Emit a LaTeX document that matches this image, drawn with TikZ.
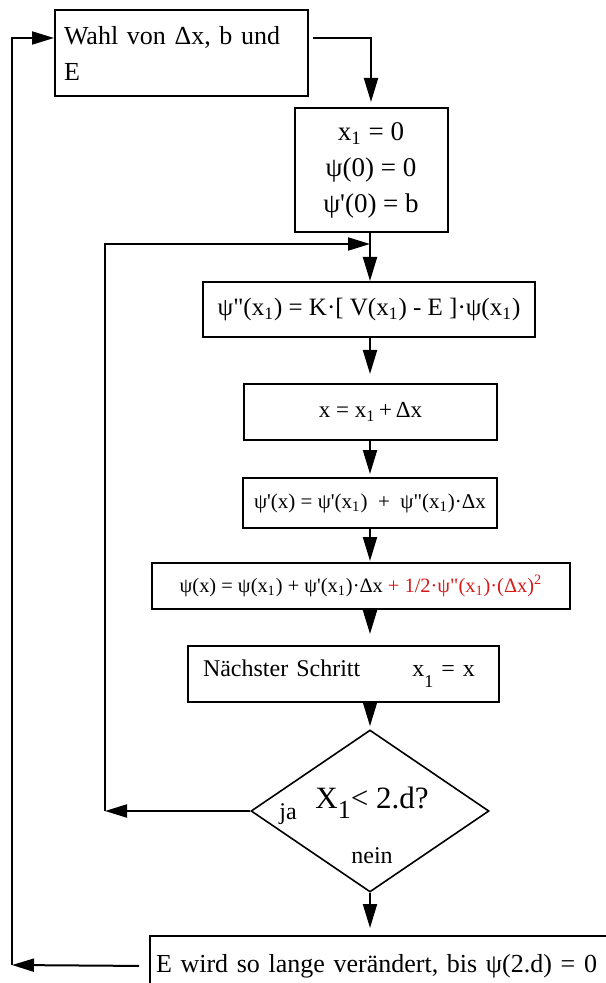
\documentclass[tikz,border=0pt]{standalone}
\usepackage{fontspec}
\setmainfont{Liberation Serif}
\usetikzlibrary{arrows.meta,shapes.geometric}
\definecolor{termred}{RGB}{215,25,25}
\tikzset{
  box/.style={draw=black,line width=1pt,rectangle,inner sep=0pt,align=center},   % process box
  decision/.style={diamond,draw=black,line width=0.8pt,inner sep=0pt,
    minimum width=119pt,minimum height=81pt},
  flow/.style={-{Triangle[length=12pt,width=7pt]},line width=1pt},
  back/.style={-{Triangle[length=11pt,width=6.5pt]},line width=1pt},         % loop return
  txtbig/.style={font=\fontsize{13}{18}\selectfont},
  txtmid/.style={font=\fontsize{12}{15}\selectfont},
  txtsmall/.style={font=\fontsize{10.5}{13}\selectfont},
}
\newcommand{\xone}{x\textsubscript{1}}
\newcommand{\prm}{\textquotesingle}
\newcommand{\dprm}{\textquotedbl}

\begin{document}
\begin{tikzpicture}[x=0.5pt,y=-0.5pt]
  \useasboundingbox (0,0) rectangle (605,983);
  % steps, top to bottom
  \node[box,txtbig,minimum width=126.5pt,minimum height=43pt,text width=117.5pt,align=left] (wahl) at (181.5,53) {Wahl von Δx, b und\\E};
  \node[box,font=\fontsize{13.5}{18}\selectfont,minimum width=76.5pt,minimum height=62pt] (init) at (371,170) {\xone{} = 0\\ψ(0) = 0\\ψ\prm(0) = b};
  \node[box,font=\fontsize{12.5}{15}\selectfont,minimum width=166pt,minimum height=27.5pt] (psi2) at (369,309.5) {ψ\dprm(\xone) = K·[ V(\xone) - E ]·ψ(\xone)};
  \node[box,font=\fontsize{11.5}{13}\selectfont,minimum width=126.5pt,minimum height=28pt] (xnew) at (370.5,412) {x = \xone\,+\,Δx};
  \node[box,txtsmall,minimum width=127pt,minimum height=25pt] (dpsi) at (370,503) {ψ\prm(x) = ψ\prm(\xone)\ \ + \ ψ\dprm(\xone)·Δx};
  \node[box,font=\fontsize{10.2}{13}\selectfont,minimum width=209pt,minimum height=23pt] (psi) at (361,586) {ψ(x) = ψ(\xone) + ψ\prm(\xone)·Δx \textcolor{termred}{+ 1/2·ψ\dprm(\xone)·(Δx)\textsuperscript{2}}};
  \node[box,txtmid,minimum width=155.5pt,minimum height=28pt,text width=140.5pt,align=left] (next) at (343.5,674) {Nächster Schritt\hspace{26pt}x\raisebox{-5.5pt}{\fontsize{9}{9}\selectfont 1} = x};
  % test
  \node[decision] (test) at (370,811) {};
  \node[anchor=base,font=\fontsize{15.5}{15}\selectfont] (cond) at (372,808) {X\raisebox{-5pt}{\fontsize{13}{13}\selectfont 1}< 2.d?};
  \node[anchor=base,txtmid] (ja) at (288,819) {ja};
  \node[anchor=base,txtmid] (nein) at (372,863) {nein};
  \node[box,txtbig,anchor=north west,minimum width=235.5pt,minimum height=30pt,text width=229.5pt,align=left] (final) at (149,935) {E wird so lange verändert, bis ψ(2.d) = 0};
  % connectors
  \coordinate (ctop) at (12,38);
  \coordinate (cbot) at (12,965);
  \coordinate (cleft) at (105,811);
  \coordinate (cjoin) at (370,244);
  \draw[flow,shorten <=2pt,shorten >=2.5pt] (wahl.east |- ctop) -| (init.north);
  \foreach \a/\b/\g in {init/psi2/0,psi2/xnew/4.5,xnew/dpsi/1.5,dpsi/psi/0.5,psi/next/5.5,next/test/1.5,test/final/3.5}
    \draw[flow,shorten >=\g pt] (\a.south -| cjoin) -- (\b.north -| cjoin);
  \draw[back] (test.west) -- (cleft);
  \draw[back] (cleft) |- (cjoin);
  \draw[back,shorten <=5pt] (final.west) -- (cbot);
  \draw[back] (cbot) |- (wahl.west |- ctop);
\end{tikzpicture}
\end{document}
